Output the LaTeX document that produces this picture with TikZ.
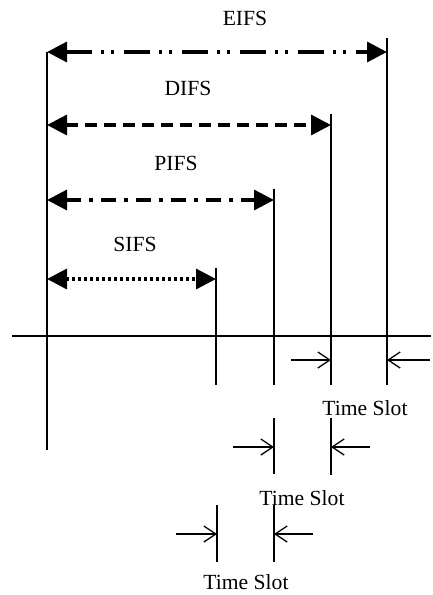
\documentclass[tikz,border=0pt]{standalone}
\usepackage{fontspec}
\setmainfont{Liberation Serif}
\usetikzlibrary{arrows.meta}
\begin{document}
\begin{tikzpicture}[x=1pt,y=-1pt,
  vline/.style={line width=1.8pt},
  axisline/.style={line width=1.6pt},
  span/.style={line width=3.3pt,{Triangle[length=20pt,width=20pt]}-{Triangle[length=20pt,width=20pt]}},
  eifsdash/.style={dash pattern=on 26pt off 9pt on 3pt off 7pt on 3pt off 10pt},
  difsdash/.style={dash pattern=on 12pt off 7pt},
  pifsdash/.style={dash pattern=on 15pt off 8pt on 4pt off 8pt},
  sifsdash/.style={dash pattern=on 3pt off 3pt},
  slotarrow/.style={line width=1.3pt,-{Straight Barb[length=12pt,width=16pt]}},
  lbl/.style={anchor=base,inner sep=0pt,text depth=0pt,font=\fontsize{21.6}{24}\selectfont}]
\useasboundingbox (0,0) rectangle (433,595);
% vertical line endpoints
\coordinate (Lt) at (47,52);   \coordinate (Lb) at (47,450);
\coordinate (Et) at (387,38);  \coordinate (Eb) at (387,385);
\coordinate (Dt) at (331,114); \coordinate (Db) at (331,385);
\coordinate (Pt) at (274,189); \coordinate (Pb) at (274,385);
\coordinate (St) at (216,268); \coordinate (Sb) at (216,385);
\coordinate (Al) at (12,336);  \coordinate (Ar) at (431,336);
\draw[vline] (Lt) -- (Lb);
\draw[vline] (Et) -- (Eb);
\draw[vline] (Dt) -- (Db);
\draw[vline] (Pt) -- (Pb);
\draw[vline] (St) -- (Sb);
\draw[axisline] (Al) -- (Ar);
% spans
\coordinate (e1) at (47,52);  \coordinate (e2) at (387,52);
\coordinate (d1) at (47,125); \coordinate (d2) at (331,125);
\coordinate (p1) at (47,200); \coordinate (p2) at (274,200);
\coordinate (s1) at (47,279); \coordinate (s2) at (216,279);
\draw[span,eifsdash] (e1) -- (e2);
\draw[span,difsdash] (d1) -- (d2);
\draw[span,pifsdash] (p1) -- (p2);
\draw[span,sifsdash] (s1) -- (s2);
\node[lbl] (eifs) at (245,25) {EIFS};
\node[lbl] (difs) at (188,95) {DIFS};
\node[lbl] (pifs) at (176,170) {PIFS};
\node[lbl] (sifs) at (135,251) {SIFS};
% time slot 1
\coordinate (a1s) at (291,360); \coordinate (a1e) at (331,360);
\coordinate (b1s) at (430,360); \coordinate (b1e) at (387,360);
\draw[slotarrow] (a1s) -- (a1e);
\draw[slotarrow] (b1s) -- (b1e);
\node[lbl] (ts1) at (365,415) {Time Slot};
% time slot 2
\coordinate (m2a) at (274,418); \coordinate (m2b) at (274,474);
\coordinate (n2a) at (331,418); \coordinate (n2b) at (331,475);
\draw[vline] (m2a) -- (m2b);
\draw[vline] (n2a) -- (n2b);
\coordinate (a2s) at (233,447); \coordinate (a2e) at (274,447);
\coordinate (b2s) at (370,447); \coordinate (b2e) at (331,447);
\draw[slotarrow] (a2s) -- (a2e);
\draw[slotarrow] (b2s) -- (b2e);
\node[lbl] (ts2) at (302,505) {Time Slot};
% time slot 3
\coordinate (m3a) at (217,505); \coordinate (m3b) at (217,562);
\coordinate (n3a) at (274,505); \coordinate (n3b) at (274,562);
\draw[vline] (m3a) -- (m3b);
\draw[vline] (n3a) -- (n3b);
\coordinate (a3s) at (176,534); \coordinate (a3e) at (217,534);
\coordinate (b3s) at (313,534); \coordinate (b3e) at (274,534);
\draw[slotarrow] (a3s) -- (a3e);
\draw[slotarrow] (b3s) -- (b3e);
\node[lbl] (ts3) at (246,589) {Time Slot};
\end{tikzpicture}
\end{document}
